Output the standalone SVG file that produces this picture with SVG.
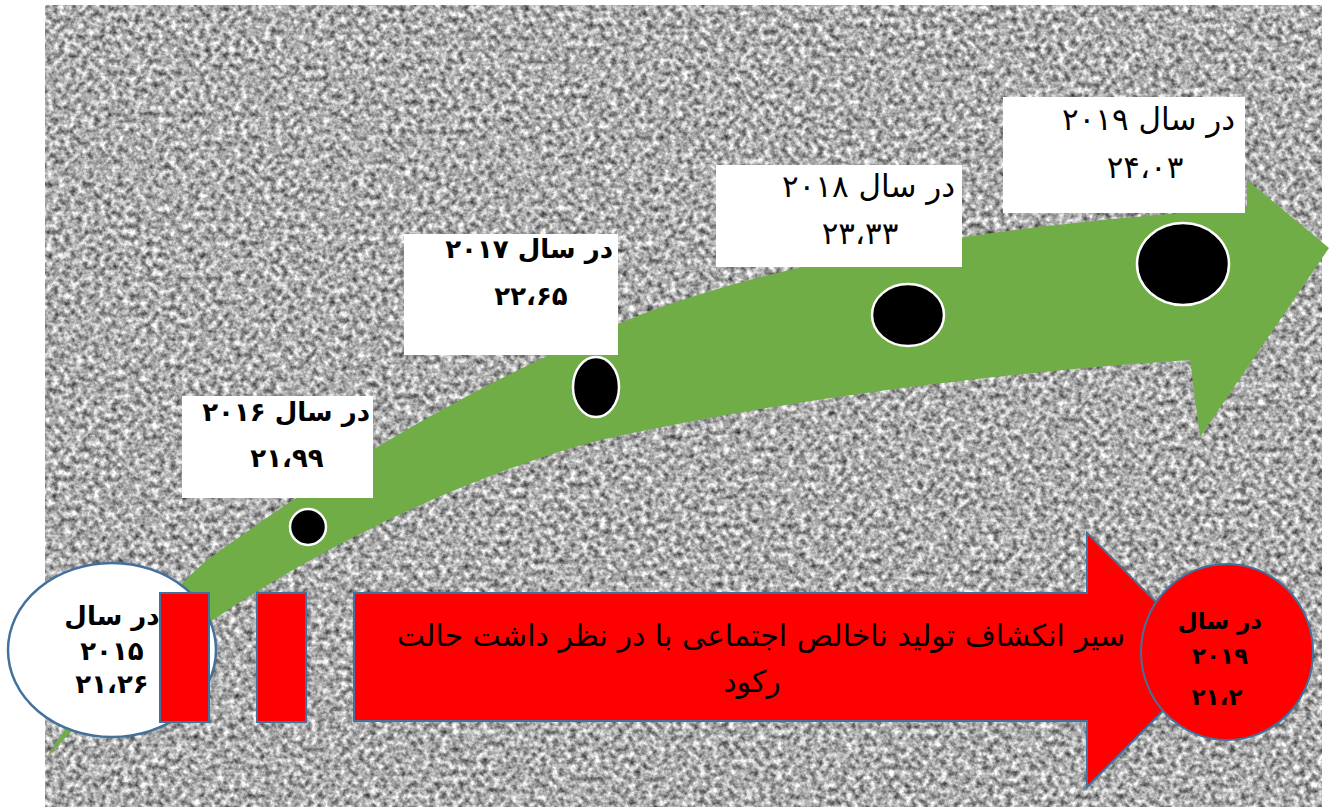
<svg xmlns="http://www.w3.org/2000/svg" width="1329" height="807" viewBox="0 0 1329 807">
<style>
.box{fill:#ffffff;}
.dot{fill:#000000;stroke:#ffffff;stroke-width:2.5;}
.red{fill:#ff0000;stroke:#41719c;stroke-width:2;}
.t{font-family:"DejaVu Sans",sans-serif;fill:#000;}
.b{font-weight:bold;}
</style>
<defs>
<filter id="noise" x="0" y="0" width="100%" height="100%" color-interpolation-filters="sRGB">
<feTurbulence type="fractalNoise" baseFrequency="0.17" numOctaves="3" seed="7"/>
<feColorMatrix type="matrix" values="1.15 0 0 0 0.1  1.15 0 0 0 0.1  1.15 0 0 0 0.1  0 0 0 0 1"/>
</filter>
</defs>
<rect x="0" y="0" width="1329" height="807" fill="#ffffff"/>
<rect x="45" y="5" width="1277" height="802" fill="#a8a8a8" filter="url(#noise)"/>

<g id="green-arrow">
<path fill="#70ad47" d="M47,757 C90,690 150,610 207,560 C330,470 480,380 640,315 C800,255 1000,225 1247,208 L1247,180 L1329,248 L1200,437 L1190,360 C1000,372 780,400 600,440 C450,480 300,560 213,620 C150,660 95,705 47,757 Z"/>
</g>

<g id="dots">
<circle class="dot" cx="308" cy="527" r="18"/>
<ellipse class="dot" cx="596" cy="387" rx="23" ry="30"/>
<ellipse class="dot" cx="908" cy="315" rx="36" ry="31"/>
<ellipse class="dot" cx="1183" cy="264" rx="46" ry="41"/>
</g>

<g id="node-2016">
<rect class="box" x="182" y="396" width="191" height="102"/>
<text class="t b" x="370" y="421" font-size="26" text-anchor="end">در سال ۲۰۱۶</text>
<text class="t b" x="287" y="467" font-size="26" text-anchor="middle">۲۱،۹۹</text>
</g>

<g id="node-2017">
<rect class="box" x="404" y="234" width="214" height="121"/>
<text class="t b" x="613" y="258" font-size="26" text-anchor="end">در سال ۲۰۱۷</text>
<text class="t b" x="531" y="305" font-size="26" text-anchor="middle">۲۲،۶۵</text>
</g>

<g id="node-2018">
<rect class="box" x="716" y="165" width="246" height="102"/>
<text class="t" x="955" y="197" font-size="31" text-anchor="end">در سال ۲۰۱۸</text>
<text class="t" x="860" y="244" font-size="31" text-anchor="middle">۲۳،۳۳</text>
</g>

<g id="node-2019">
<rect class="box" x="1003" y="97" width="242" height="116"/>
<text class="t" x="1235" y="130" font-size="31" text-anchor="end">در سال ۲۰۱۹</text>
<text class="t" x="1145" y="178" font-size="31" text-anchor="middle">۲۴،۰۳</text>
</g>

<g id="node-2015">
<ellipse cx="112" cy="650" rx="104" ry="87" fill="#ffffff" stroke="#41719c" stroke-width="2.5"/>
<text class="t b" x="112" y="625" font-size="26" text-anchor="middle">در سال</text>
<text class="t b" x="112" y="660" font-size="26" text-anchor="middle">۲۰۱۵</text>
<text class="t b" x="112" y="693" font-size="26" text-anchor="middle">۲۱،۲۶</text>
</g>

<g id="red-bars">
<rect class="red" x="160" y="593" width="49" height="129"/>
<rect class="red" x="257" y="593" width="49" height="129"/>
</g>

<g id="red-arrow">
<path class="red" d="M354,593 L1087,593 L1087,533 L1214,660 L1087,787 L1087,721 L354,721 Z"/>
<text class="t" x="761" y="646" font-size="30" text-anchor="middle">سیر انکشاف تولید ناخالص اجتماعی  با در نظر داشت حالت</text>
<text class="t" x="752" y="692" font-size="30" text-anchor="middle">رکود</text>
</g>

<g id="node-2019-red">
<ellipse class="red" cx="1227" cy="652" rx="86" ry="88"/>
<text class="t b" x="1220" y="629" font-size="23" text-anchor="middle">در سال</text>
<text class="t b" x="1220" y="664" font-size="23" text-anchor="middle" letter-spacing="6">۲۰۱۹</text>
<text class="t b" x="1217" y="705" font-size="23" text-anchor="middle" letter-spacing="4">۲۱،۲</text>
</g>
</svg>
